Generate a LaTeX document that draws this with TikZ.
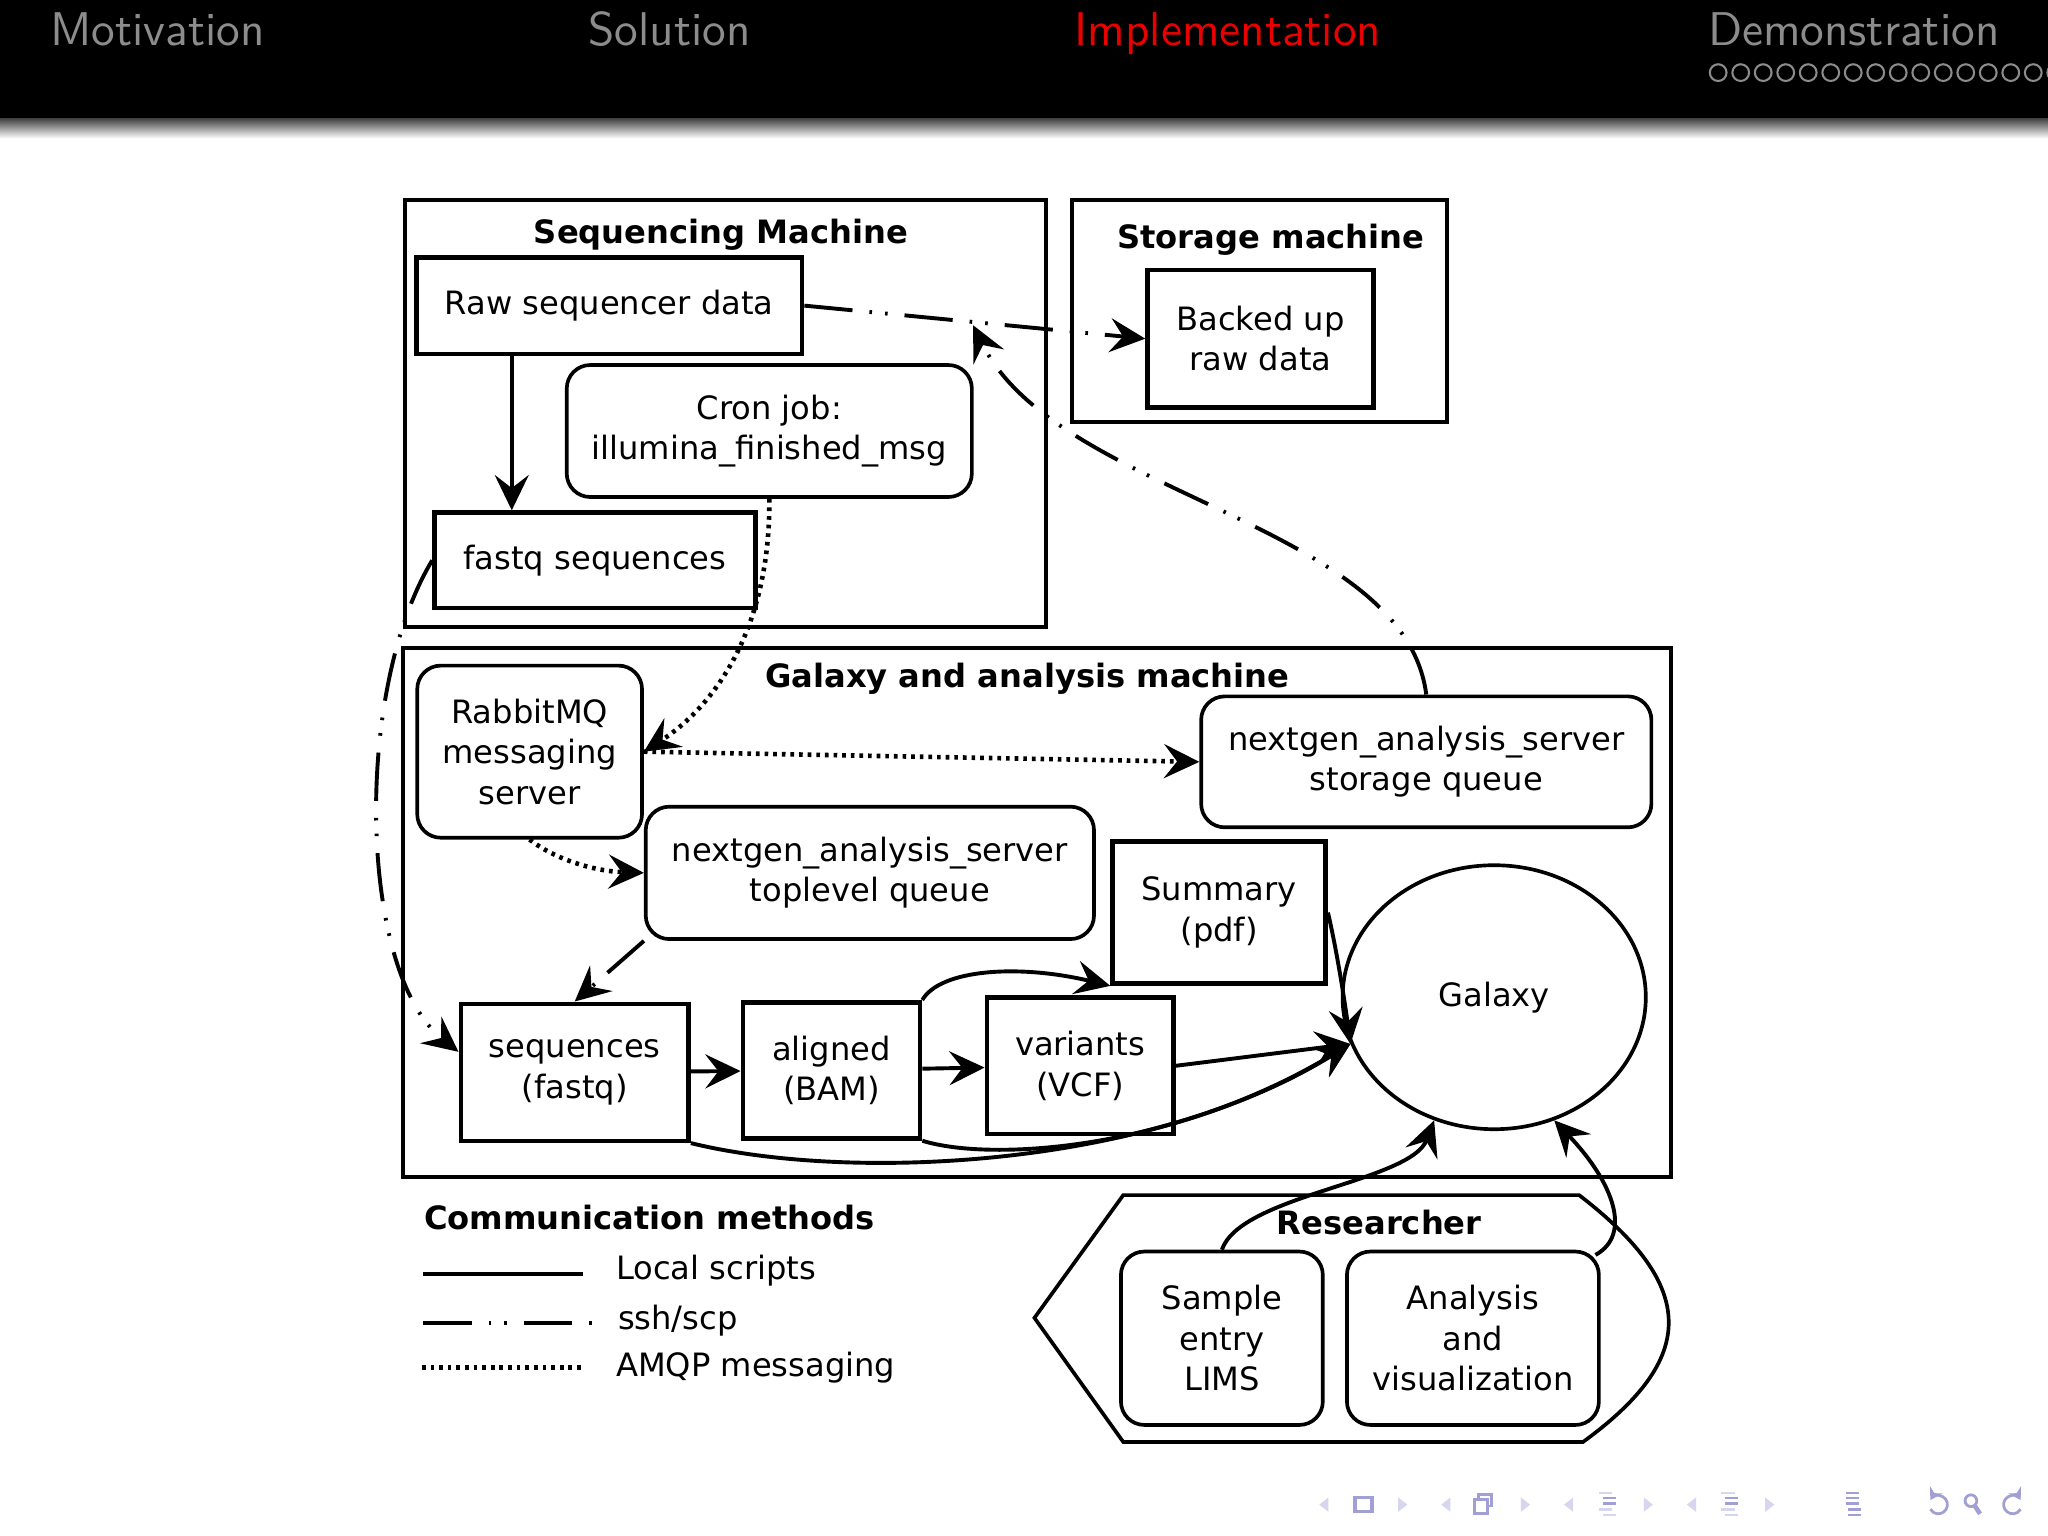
\documentclass[tikz,border=0pt]{standalone}
\usepackage{fontspec}
\newfontfamily\diafont{DejaVu Sans}
\usetikzlibrary{arrows.meta, shapes.geometric, calc}

\definecolor{headgray}{RGB}{140,140,140}
\definecolor{headred}{RGB}{235,0,0}
\definecolor{navblue}{RGB}{160,160,212}
\definecolor{navlight}{RGB}{214,214,238}
\newcommand{\diasize}{\fontsize{7}{8.8}\selectfont}

\tikzset{
  box/.style={draw, line width=1pt, inner sep=0pt, align=center, font=\diafont\diasize},
  rbox/.style={box, line width=0.8pt, rounded corners=1.8mm},
  machine/.style={draw, line width=0.9pt, inner sep=0pt},
  mtitle/.style={font=\diafont\diasize\bfseries, inner sep=0pt},
  legtext/.style={font=\diafont\diasize, anchor=base west, inner sep=0pt},
  conn/.style={line width=0.85pt},
  sshconn/.style={conn, dash pattern=on 0.37cm off 0.13cm on 0.02cm off 0.10cm on 0.02cm off 0.13cm},
  amqpconn/.style={conn, line width=1pt, dash pattern=on 0.028cm off 0.038cm},
  tipend/.style={-{Stealth[length=2.7mm, width=2.6mm, inset=1mm]}},
  headtext/.style={font=\sffamily\fontsize{10.3}{12}\selectfont, anchor=base west, inner sep=0pt}
}

\begin{document}
\begin{tikzpicture}[x=0.01cm, y=-0.01cm]
  \useasboundingbox (0,0) rectangle (1568,1176);
  \fill[white] (0,0) rectangle (1568,1176);

  % slide header
  \fill[black] (0,0) rectangle (1568,91);
  \shade[top color=black!75, bottom color=white] (0,90.5) rectangle (1568,106);
  \node[headtext, headgray] (motiv) at (38,34.5) {Motivation};
  \node[headtext, headgray] (solut) at (450,34.5) {Solution};
  \node[headtext, headred] (implem) at (822,34.5) {Implementation};
  \node[headtext, headgray] (demo) at (1307,34.5) {Demonstration};
  \foreach \i in {0,...,15}
    \draw[headgray, line width=0.45pt] (1315.5+17.23*\i,55.6) circle (0.064cm);

  % sequencing machine
  \node[machine, minimum width=4.91cm, minimum height=3.27cm] (seqm) at (555.5,316.5) {};
  \node[mtitle, anchor=base] (seqt) at (552,186.3) {Sequencing Machine};
  \node[box, minimum width=2.95cm, minimum height=0.74cm] (raw) at (466.5,234) {Raw sequencer data};
  \node[rbox, minimum width=3.10cm, minimum height=1.01cm] (cron) at (589,330) {Cron job:\\illumina\_finished\_msg};
  \node[box, minimum width=2.455cm, minimum height=0.73cm] (fastq) at (455.5,429) {fastq sequences};

  % storage machine
  \node[machine, minimum width=2.87cm, minimum height=1.70cm] (storm) at (964.5,238) {};
  \node[mtitle, anchor=base] (stort) at (973,190.1) {Storage machine};
  \node[box, minimum width=1.727cm, minimum height=1.05cm] (backed) at (965,259.3) {Backed up\\raw data};

  % galaxy and analysis machine
  \node[machine, minimum width=9.70cm, minimum height=4.045cm] (galm) at (794,698.75) {};
  \node[mtitle, anchor=base] (galt) at (786.5,526.6) {Galaxy and analysis machine};
  \node[rbox, minimum width=1.72cm, minimum height=1.317cm] (rabbit) at (405.5,575.5) {RabbitMQ\\messaging\\server};
  \node[rbox, minimum width=3.445cm, minimum height=1.002cm] (storq) at (1092,583.3) {nextgen\_analysis\_server\\storage queue};
  \node[rbox, minimum width=3.43cm, minimum height=1.013cm] (topq) at (666,668.3) {nextgen\_analysis\_server\\toplevel queue};
  \node[box, minimum width=1.63cm, minimum height=1.086cm] (summary) at (933.4,698.7) {Summary\\(pdf)};
  \node[box, minimum width=1.743cm, minimum height=1.048cm] (seqs) at (440,821) {sequences\\(fastq)};
  \node[box, minimum width=1.355cm, minimum height=1.042cm] (bam) at (636.6,819.5) {aligned\\(BAM)};
  \node[box, minimum width=1.427cm, minimum height=1.046cm] (vcf) at (827,816) {variants\\(VCF)};
  \node[box, ellipse, line width=0.8pt, minimum width=2.32cm, minimum height=2.02cm] (galaxy) at (1144,763.5) {Galaxy};

  % researcher
  \draw[line width=0.8pt] (860,915) -- (1209,915) .. controls (1300,985) and (1300,1040) .. (1212,1104)
    -- (860,1104) -- (792,1009) -- cycle;
  \node[mtitle, anchor=base] (rest) at (1056,945.5) {Researcher};
  \node[rbox, minimum width=1.545cm, minimum height=1.327cm] (lims) at (935.5,1024.6) {Sample\\entry\\LIMS};
  \node[rbox, minimum width=1.928cm, minimum height=1.327cm] (vis) at (1127.7,1024.6) {Analysis\\and\\visualization};

  % connectors
  \coordinate (rawout) at ($(raw.south west)!0.25!(raw.south east)$);
  \draw[conn, tipend] (rawout) -- (rawout |- fastq.north);
  \draw[sshconn, tipend] (raw.east) -- (backed.west);
  \coordinate (sshjoin) at (745,249);
  \draw[sshconn, tipend] (storq.north) .. controls (1075,400) and (810,380) .. (sshjoin);
  \draw[sshconn, tipend] (fastq.west) .. controls (270,530) and (275,745) .. (seqs.170);
  \draw[amqpconn, tipend] (cron.south) .. controls (590,480) and (548,540) .. (rabbit.east);
  \draw[amqpconn, tipend] (rabbit.east) -- (storq.west);
  \draw[amqpconn, tipend] (rabbit.south) .. controls (425,658) and (455,667) .. (topq.west);
  \draw[sshconn, tipend] (topq.south west) -- (seqs.north);
  \draw[conn, tipend] (seqs) -- (bam);
  \draw[conn, tipend] (bam) -- (vcf);
  \draw[conn, tipend] (bam.north east) .. controls (720,742) and (780,738) .. (summary.south west);
  \draw[conn, tipend] (summary.east) .. controls (1024,730) and (1030,770) .. (galaxy.198);
  \draw[conn, tipend] (vcf.east) -- (galaxy.198);
  \draw[conn, tipend] (seqs.south east) .. controls (650,905) and (880,895) .. (galaxy.198);
  \draw[conn, tipend] (bam.south east) .. controls (760,890) and (900,880) .. (galaxy.198);
  \draw[conn, tipend] (lims.north) .. controls (950,915) and (1080,905) .. (galaxy.244);
  \draw[conn, tipend] ($(vis.north east)+(-4,4)$) .. controls (1250,945) and (1235,905) .. (galaxy.296);

  % legend
  \node[mtitle, anchor=base west] (legt) at (324,941) {Communication methods};
  \coordinate (l1a) at (324,975.6);
  \coordinate (l1b) at (446,975.6);
  \draw[conn] (l1a) -- (l1b);
  \node[legtext] (legl) at (471,979.5) {Local scripts};
  \coordinate (l2a) at (324,1012.7);
  \coordinate (l2b) at (453,1012.7);
  \draw[sshconn] (l2a) -- (l2b);
  \node[legtext] (legs) at (472.5,1017.7) {ssh/scp};
  \coordinate (l3a) at (323,1047);
  \coordinate (l3b) at (446,1047);
  \draw[amqpconn] (l3a) -- (l3b);
  \node[legtext] (lega) at (471,1054) {AMQP messaging};

  % navigation symbols
  \foreach \xa in {1013.6,1107,1201,1295}
    \fill[navlight] (\xa+3.5,1146.5) -- (\xa-3.5,1152) -- (\xa+3.5,1157.5) -- cycle;
  \foreach \xa in {1074,1168,1262,1355}
    \fill[navlight] (\xa-3.5,1146.5) -- (\xa+3.5,1152) -- (\xa-3.5,1157.5) -- cycle;
  \draw[navblue, line width=0.7pt] (1037.5,1146.5) rectangle (1050.5,1157.5);
  \draw[navblue, line width=0.6pt, fill=white] (1132,1144.5) rectangle (1142,1153);
  \draw[navblue, line width=0.6pt, fill=white] (1129,1148) rectangle (1139,1158.5);
  \foreach \xc in {1231,1325} {
    \fill[navlight] (\xc-7,1142) rectangle (\xc+3,1144);
    \fill[navblue] (\xc-4,1146) rectangle (\xc+6,1148);
    \fill[navblue] (\xc-4,1150) rectangle (\xc+6,1152);
    \fill[navlight] (\xc-7,1154.5) rectangle (\xc+3,1156.5);
    \fill[navlight] (\xc-4,1159) rectangle (\xc+6,1161);
  }
  \fill[navblue] (1413,1142) rectangle (1423,1144);
  \fill[navblue] (1413,1146) rectangle (1423,1148);
  \fill[navblue] (1413,1150) rectangle (1423,1152);
  \fill[navblue] (1415,1154.5) rectangle (1425,1156.5);
  \fill[navblue] (1415,1159) rectangle (1425,1161);
  \begin{scope}[shift={(1484,1152)}, x=0.01cm, y=0.01cm, navblue, line width=0.6pt]
    \draw[{Stealth[length=0.9mm, width=1.1mm]}-] (150:7) arc[start angle=150, end angle=-150, radius=7];
  \end{scope}
  \draw[navblue, line width=0.6pt] (1509,1149) circle (0.045cm);
  \draw[navblue, line width=1pt] (1512,1153) -- (1516,1159);
  \begin{scope}[shift={(1541,1152)}, x=0.01cm, y=0.01cm, navblue, line width=0.6pt]
    \draw[{Stealth[length=0.9mm, width=1.1mm]}-] (30:7) arc[start angle=30, end angle=330, radius=7];
  \end{scope}
\end{tikzpicture}
\end{document}
